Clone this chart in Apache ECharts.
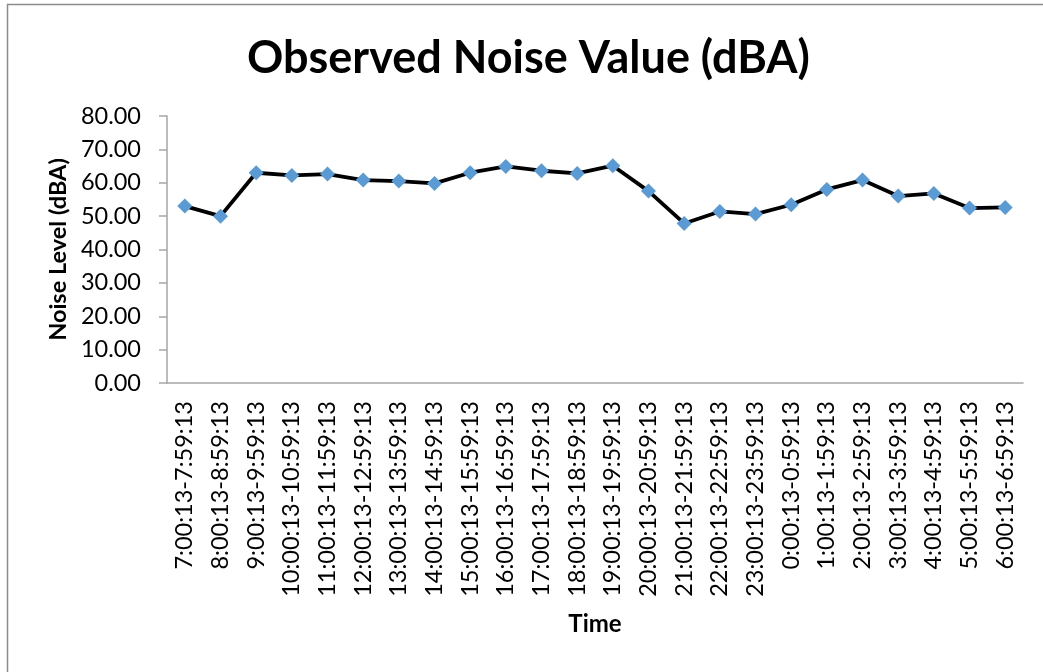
<!DOCTYPE html>
<html>
<head>
<meta charset="utf-8">
<script src="https://cdn.jsdelivr.net/npm/echarts@6/dist/echarts.min.js"></script>
<style>
  html, body { margin: 0; padding: 0; background: #fff; }
  #chart { width: 1043px; height: 672px; }
</style>
</head>
<body>
<div id="chart"></div>
<script>
// Hourly time windows over one day (start 7:00)
const timeSlots = [
  '7:00:13-7:59:13', '8:00:13-8:59:13', '9:00:13-9:59:13', '10:00:13-10:59:13',
  '11:00:13-11:59:13', '12:00:13-12:59:13', '13:00:13-13:59:13', '14:00:13-14:59:13',
  '15:00:13-15:59:13', '16:00:13-16:59:13', '17:00:13-17:59:13', '18:00:13-18:59:13',
  '19:00:13-19:59:13', '20:00:13-20:59:13', '21:00:13-21:59:13', '22:00:13-22:59:13',
  '23:00:13-23:59:13', '0:00:13-0:59:13', '1:00:13-1:59:13', '2:00:13-2:59:13',
  '3:00:13-3:59:13', '4:00:13-4:59:13', '5:00:13-5:59:13', '6:00:13-6:59:13'
];

// Measured noise level per hour (dBA)
const noiseLevel = [
  53.0, 50.0, 63.0, 62.2, 62.6, 60.8, 60.5, 59.8, 63.0, 64.9, 63.6, 62.8,
  65.1, 57.5, 47.8, 51.4, 50.6, 53.4, 58.0, 60.8, 56.0, 56.8, 52.4, 52.6
];

const yMin = 0, yMax = 80, yStep = 10;

const FONT = 'Lato, "Open Sans", sans-serif';

const chart = echarts.init(document.getElementById('chart'), null, { renderer: 'canvas' });

chart.setOption({
  animation: false,
  backgroundColor: '#ffffff',
  title: {
    text: 'Observed Noise Value (dBA)',
    left: 242,
    top: 31,
    textStyle: { fontFamily: FONT, fontSize: 45, fontWeight: 'bold', color: '#000' }
  },
  graphic: [
    { type: 'line', silent: true, shape: { x1: 7.5, y1: 4, x2: 7.5, y2: 672 },
      style: { stroke: '#8c8c8c', lineWidth: 1.5 } },
    { type: 'line', silent: true, shape: { x1: 7, y1: 4.5, x2: 1043, y2: 4.5 },
      style: { stroke: '#8c8c8c', lineWidth: 1.5 } }
  ],
  grid: { left: 167, right: 20, top: 116, bottom: 289, containLabel: false },
  xAxis: {
    type: 'category',
    data: timeSlots,
    boundaryGap: true,
    name: 'Time',
    nameLocation: 'middle',
    nameGap: 229,
    nameTextStyle: { fontFamily: FONT, fontSize: 24, fontWeight: 'bold', color: '#000' },
    axisLine: { lineStyle: { color: '#a6a6a6', width: 1.5 } },
    axisTick: { show: false },
    axisLabel: {
      rotate: 90,
      interval: 0,
      margin: 18,
      fontFamily: FONT,
      fontSize: 23.5,
      color: '#000'
    },
    splitLine: { show: false }
  },
  yAxis: {
    type: 'value',
    min: yMin,
    max: yMax,
    interval: yStep,
    name: 'Noise Level (dBA)',
    nameLocation: 'middle',
    nameGap: 91,
    nameTextStyle: { fontFamily: FONT, fontSize: 23.5, fontWeight: 'bold', color: '#000' },
    axisLine: { show: true, lineStyle: { color: '#a6a6a6', width: 1.5 } },
    axisTick: { show: true, length: 8, inside: false, lineStyle: { color: '#a6a6a6', width: 1.5 } },
    axisLabel: {
      margin: 26,
      fontFamily: FONT,
      fontSize: 23.5,
      color: '#000',
      formatter: v => v.toFixed(2)
    },
    splitLine: { show: false }
  },
  series: [{
    type: 'line',
    data: noiseLevel,
    symbol: 'diamond',
    symbolSize: 15,
    lineStyle: { color: '#000', width: 3.8 },
    itemStyle: { color: '#5b9bd5', borderWidth: 0 },
    z: 3
  }]
});
</script>
</body>
</html>
